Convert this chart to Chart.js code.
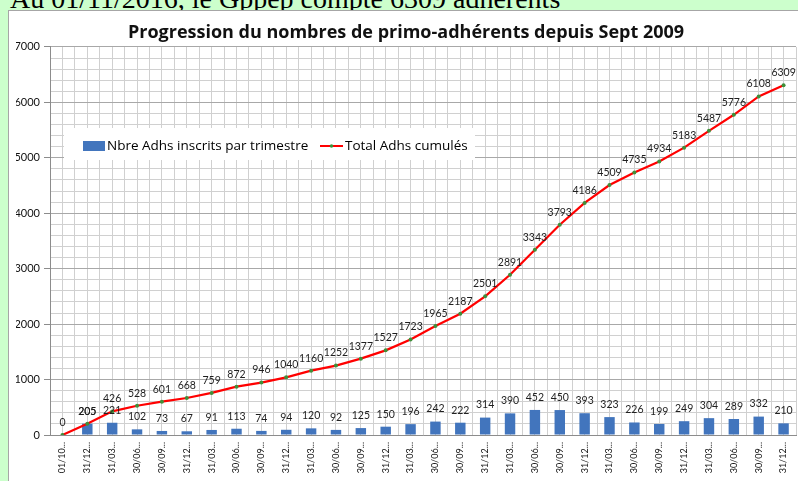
<!DOCTYPE html>
<html>
<head>
<meta charset="utf-8">
<script src="https://cdn.jsdelivr.net/npm/chart.js@4.4.0/dist/chart.umd.min.js"></script>
<style>
  html, body { margin:0; padding:0; }
  body { background:#ccffcc; width:798px; height:481px; overflow:hidden; position:relative; }
  #hdr { position:absolute; left:10px; top:-15px; font-family:'Liberation Serif', serif; font-size:28px; line-height:28px; white-space:nowrap; color:#000; }
  #box { position:absolute; left:8px; top:10px; width:800px; height:480px; background:#fff; border:1px solid #a6a6a6; }
  canvas { display:block; }
</style>
</head>
<body>
<div id="hdr">Au 01/11/2016, le Gppep compte 6309 adhérents</div>
<div id="box"><canvas id="c" width="800" height="471"></canvas></div>
<script>
const categories = ['01/10...', '31/12...', '31/03...', '30/06...', '30/09...',
  '31/12...', '31/03...', '30/06...', '30/09...',
  '31/12...', '31/03...', '30/06...', '30/09...',
  '31/12...', '31/03...', '30/06...', '30/09...',
  '31/12...', '31/03...', '30/06...', '30/09...',
  '31/12...', '31/03...', '30/06...', '30/09...',
  '31/12...', '31/03...', '30/06...', '30/09...',
  '31/12...'];
const quarterlyMembers = [null, 205, 221, 102, 73, 67, 91, 113, 74, 94,
  120, 92, 125, 150, 196, 242, 222, 314, 390, 452,
  450, 393, 323, 226, 199, 249, 304, 289, 332, 210];
const cumulativeMembers = [0, 205, 426, 528, 601, 668, 759, 872, 946, 1040,
  1160, 1252, 1377, 1527, 1723, 1965, 2187, 2501, 2891, 3343,
  3793, 4186, 4509, 4735, 4934, 5183, 5487, 5776, 6108, 6309];
const yMin = 0, yMax = 7000, yMajorStep = 1000, yMinorStep = 200;
const titleText = 'Progression du nombres de primo-adhérents depuis Sept 2009';
const barLabel = 'Nbre Adhs inscrits par trimestre';
const lineLabel = 'Total Adhs cumulés';

const BAR_COLOR = '#4275bd';
const LINE_COLOR = '#ff0000';
const POINT_COLOR = '#3f8f3a';

Chart.defaults.font.family = 'Lato, "Noto Sans", sans-serif';
Chart.defaults.color = '#000';

const valueLabels = {
  id: 'valueLabels',
  afterDatasetsDraw(chart) {
    const ctx = chart.ctx;
    ctx.save();
    ctx.font = '10.5px Lato, "Noto Sans", sans-serif';
    ctx.fillStyle = '#1e1e1e';
    ctx.textAlign = 'center';
    ctx.textBaseline = 'middle';
    chart.data.datasets.forEach((ds, di) => {
      const meta = chart.getDatasetMeta(di);
      meta.data.forEach((el, i) => {
        const v = ds.data[i];
        if (v === null || v === undefined) return;
        ctx.fillText(String(v), el.x, el.y - 12.5);
      });
    });
    ctx.restore();
  }
};

const insideLegend = {
  id: 'insideLegend',
  afterDraw(chart) {
    const ctx = chart.ctx;
    const ds = chart.data.datasets;
    const bar = ds.find(d => d.type === 'bar');
    const line = ds.find(d => d.type === 'line');
    ctx.save();
    ctx.fillStyle = '#ffffff';
    ctx.fillRect(55, 117, 411, 32);
    const cy = 135;
    ctx.fillStyle = bar.backgroundColor;
    ctx.fillRect(74, cy - 5, 22, 10);
    ctx.font = '13.5px "Open Sans", Lato, sans-serif';
    ctx.fillStyle = '#000';
    ctx.textAlign = 'left';
    ctx.textBaseline = 'middle';
    ctx.fillText(bar.label, 98, cy);
    ctx.strokeStyle = line.borderColor;
    ctx.lineWidth = 2;
    ctx.beginPath();
    ctx.moveTo(311, cy);
    ctx.lineTo(334, cy);
    ctx.stroke();
    ctx.fillStyle = line.pointBackgroundColor;
    ctx.beginPath();
    ctx.arc(322.5, cy, 1.8, 0, Math.PI * 2);
    ctx.fill();
    ctx.fillStyle = '#000';
    ctx.fillText(line.label, 336, cy);
    ctx.restore();
  }
};

new Chart(document.getElementById('c'), {
  data: {
    labels: categories,
    datasets: [
      {
        type: 'line',
        label: lineLabel,
        data: cumulativeMembers,
        borderColor: LINE_COLOR,
        borderWidth: 2.2,
        pointRadius: 2,
        pointBorderWidth: 0,
        pointBackgroundColor: POINT_COLOR,
        tension: 0,
        order: 0
      },
      {
        type: 'bar',
        label: barLabel,
        data: quarterlyMembers,
        backgroundColor: BAR_COLOR,
        categoryPercentage: 1,
        barPercentage: 0.42,
        order: 1
      }
    ]
  },
  options: {
    responsive: false,
    animation: false,
    layout: { padding: { left: 7, right: 13, top: 0, bottom: 0 } },
    plugins: {
      legend: { display: false },
      tooltip: { enabled: false },
      title: {
        display: true,
        text: titleText,
        color: '#111',
        font: { size: 18, weight: 'bold', family: '"Open Sans", Lato, sans-serif', lineHeight: 1.13 },
        padding: { top: 12, bottom: 3.6 }
      }
    },
    scales: {
      x: {
        type: 'category',
        offset: true,
        grid: { display: false, drawTicks: false },
        border: { display: true, color: '#8c8c8c', width: 1 },
        ticks: {
          autoSkip: false,
          minRotation: 90,
          maxRotation: 90,
          padding: 7,
          color: '#111',
          font: { size: 9 }
        },
        afterFit(s) { s.height = 47; }
      },
      x2: {
        type: 'linear',
        position: 'bottom',
        min: -0.5,
        max: 29.5,
        offset: false,
        ticks: { display: false, stepSize: 0.5 },
        grid: { color: '#d0d0d0', drawTicks: false, lineWidth: 1 },
        border: { display: false },
        afterFit(s) { s.height = 0; }
      },
      y: {
        type: 'linear',
        position: 'left',
        min: yMin,
        max: yMax,
        ticks: {
          stepSize: yMinorStep,
          autoSkip: false,
          padding: 4,
          color: '#111',
          font: { size: 11 },
          callback: v => (v % yMajorStep === 0 ? String(v) : '')
        },
        grid: {
          color: c => (c.tick && c.tick.value % yMajorStep === 0 ? '#a8a8a8' : '#d0d0d0'),
          tickColor: c => (c.tick && c.tick.value % yMajorStep === 0 ? '#8c8c8c' : 'rgba(0,0,0,0)'),
          tickLength: 6
        },
        border: { display: true, color: '#8c8c8c', width: 1 },
        afterFit(s) { s.width = 34; }
      }
    }
  },
  plugins: [valueLabels, insideLegend]
});
</script>
</body>
</html>
